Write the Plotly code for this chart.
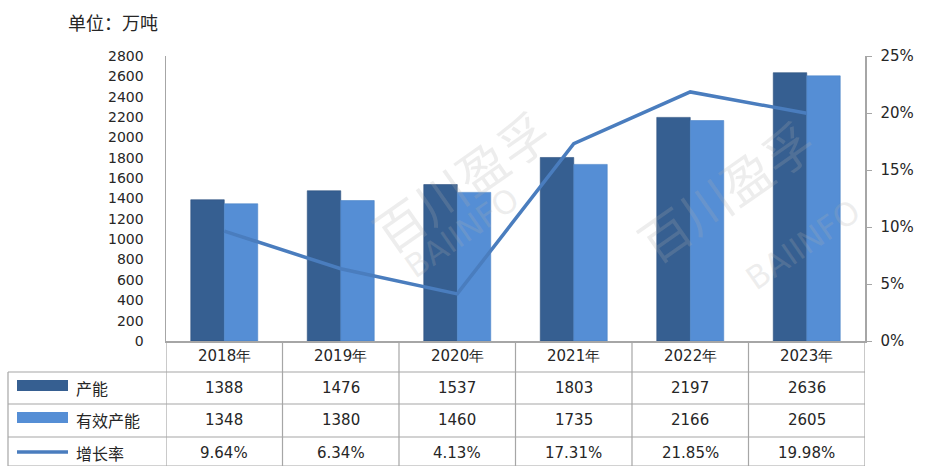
import plotly.graph_objects as go

years = ["2018年", "2019年", "2020年", "2021年", "2022年", "2023年"]
capacity = [1388, 1476, 1537, 1803, 2197, 2636]
effective = [1348, 1380, 1460, 1735, 2166, 2605]
growth = [9.64, 6.34, 4.13, 17.31, 21.85, 19.98]
growth_labels = ["9.64%", "6.34%", "4.13%", "17.31%", "21.85%", "19.98%"]
series_names = ["产能", "有效产能", "增长率"]
left_ticks = list(range(0, 2801, 200))
right_ticks = [0, 5, 10, 15, 20, 25]

W, H = 928, 466
L, R, T, B = 166, 865, 56, 341

DARK = "#365F91"
LIGHT = "#558ED5"
LINE = "#4A7DBE"
GRID = "#A6A6A6"
TXT = "#262626"
NUMF = "DejaVu Sans, Liberation Sans, Arial"
CJKF = "Noto Sans CJK SC"


def px(x):
    return (x - L) / (R - L)


def py(y):
    return (B - y) / (B - T)


fig = go.Figure()
fig.add_trace(go.Bar(x=years, y=capacity, name=series_names[0], marker=dict(color=DARK, line=dict(color="#2E5180", width=0.6))))
fig.add_trace(go.Bar(x=years, y=effective, name=series_names[1], marker=dict(color=LIGHT, line=dict(color="#4C84C8", width=0.6))))
fig.add_trace(go.Scatter(x=years, y=growth, name=series_names[2], yaxis="y2", mode="lines",
                         line=dict(color=LINE, width=3.5)))

shapes = []
annotations = []

# table horizontal lines
row_lines = [372, 404, 437, 466]
for yy in row_lines:
    shapes.append(dict(type="line", xref="paper", yref="paper", x0=px(8), x1=1, y0=py(yy), y1=py(yy),
                       line=dict(color=GRID, width=1.2)))
# left border
shapes.append(dict(type="line", xref="paper", yref="paper", x0=px(8), x1=px(8), y0=py(372), y1=py(466),
                   line=dict(color=GRID, width=1.2)))
# vertical category boundaries
for i in range(len(years) + 1):
    shapes.append(dict(type="line", xref="x", yref="paper", x0=i - 0.5, x1=i - 0.5, y0=0, y1=py(466),
                       line=dict(color=GRID, width=1.2)))

# legend swatches
shapes.append(dict(type="rect", xref="paper", yref="paper", x0=px(17), x1=px(68), y0=py(380), y1=py(391),
                   fillcolor=DARK, line=dict(width=0)))
shapes.append(dict(type="rect", xref="paper", yref="paper", x0=px(17), x1=px(68), y0=py(412), y1=py(423),
                   fillcolor=LIGHT, line=dict(width=0)))
shapes.append(dict(type="line", xref="paper", yref="paper", x0=px(17), x1=px(68), y0=py(452), y1=py(452),
                   line=dict(color=LINE, width=3.5)))

row_y = [388, 420, 453]
for name, yy in zip(series_names, row_y):
    annotations.append(dict(text=name, xref="paper", yref="paper", x=px(74), y=py(yy), xanchor="left",
                            yanchor="middle", showarrow=False, font=dict(family=CJKF, size=16, color=TXT)))

rows = [[str(v) for v in capacity], [str(v) for v in effective], growth_labels]
for r, yy in zip(rows, row_y):
    for yr, t in zip(years, r):
        annotations.append(dict(text=t, xref="x", yref="paper", x=yr, y=py(yy), xanchor="center",
                                yanchor="middle", showarrow=False, font=dict(family=NUMF, size=15, color=TXT)))

# header years
for yr in years:
    annotations.append(dict(text=yr, xref="x", yref="paper", x=yr, y=py(356), xanchor="center",
                            yanchor="middle", showarrow=False, font=dict(family=NUMF, size=15, color=TXT)))

# unit label
annotations.append(dict(text="单位：万吨", xref="paper", yref="paper", x=px(66), y=py(22), xanchor="left",
                        yanchor="middle", showarrow=False, font=dict(family=CJKF, size=18, color=TXT)))

# watermarks
wm = "rgba(175,175,175,0.22)"
annotations.append(dict(text="百川盈孚", xref="paper", yref="paper", x=px(355), y=py(180), showarrow=False,
                        textangle=-35, font=dict(family=CJKF, size=50, color=wm)))
annotations.append(dict(text="BAIINFO", xref="paper", yref="paper", x=px(395), y=py(233), showarrow=False,
                        textangle=-35, font=dict(family=NUMF, size=32, color=wm)))
annotations.append(dict(text="百川盈孚", xref="paper", yref="paper", x=px(830), y=py(190), showarrow=False,
                        textangle=-35, font=dict(family=CJKF, size=50, color=wm)))
annotations.append(dict(text="BAIINFO", xref="paper", yref="paper", x=px(870), y=py(245), showarrow=False,
                        textangle=-35, font=dict(family=NUMF, size=32, color=wm)))

fig.update_layout(
    width=W, height=H,
    margin=dict(l=L, r=W - R, t=T, b=H - B, pad=0, autoexpand=False),
    paper_bgcolor="white", plot_bgcolor="white",
    barmode="group", bargap=0.425, bargroupgap=0,
    showlegend=False, hovermode=False,
    xaxis=dict(type="category", range=[-0.5, 5.5], showticklabels=False, ticks="", automargin=False,
               showline=True, linecolor=GRID, linewidth=1.5, showgrid=False, zeroline=False),
    yaxis=dict(range=[0, 2800], tickvals=left_ticks, ticks="", showline=True, linecolor=GRID, linewidth=1.5,
               showgrid=False, zeroline=False, ticklabelstandoff=18, automargin=False,
               tickfont=dict(family=NUMF, size=14, color=TXT)),
    yaxis2=dict(range=[0, 25], tickvals=right_ticks, ticktext=[f"{v}%" for v in right_ticks], overlaying="y",
                side="right", ticks="outside", ticklen=5, tickcolor=GRID, showline=True, linecolor=GRID,
                linewidth=1.5, showgrid=False, zeroline=False, ticklabelstandoff=6, automargin=False,
                tickfont=dict(family=NUMF, size=15, color=TXT)),
    shapes=shapes,
    annotations=annotations,
)

fig.write_html("out.html", config={"displayModeBar": False, "staticPlot": True},
               post_script="document.body.style.margin='0px';document.body.style.overflow='hidden';")
